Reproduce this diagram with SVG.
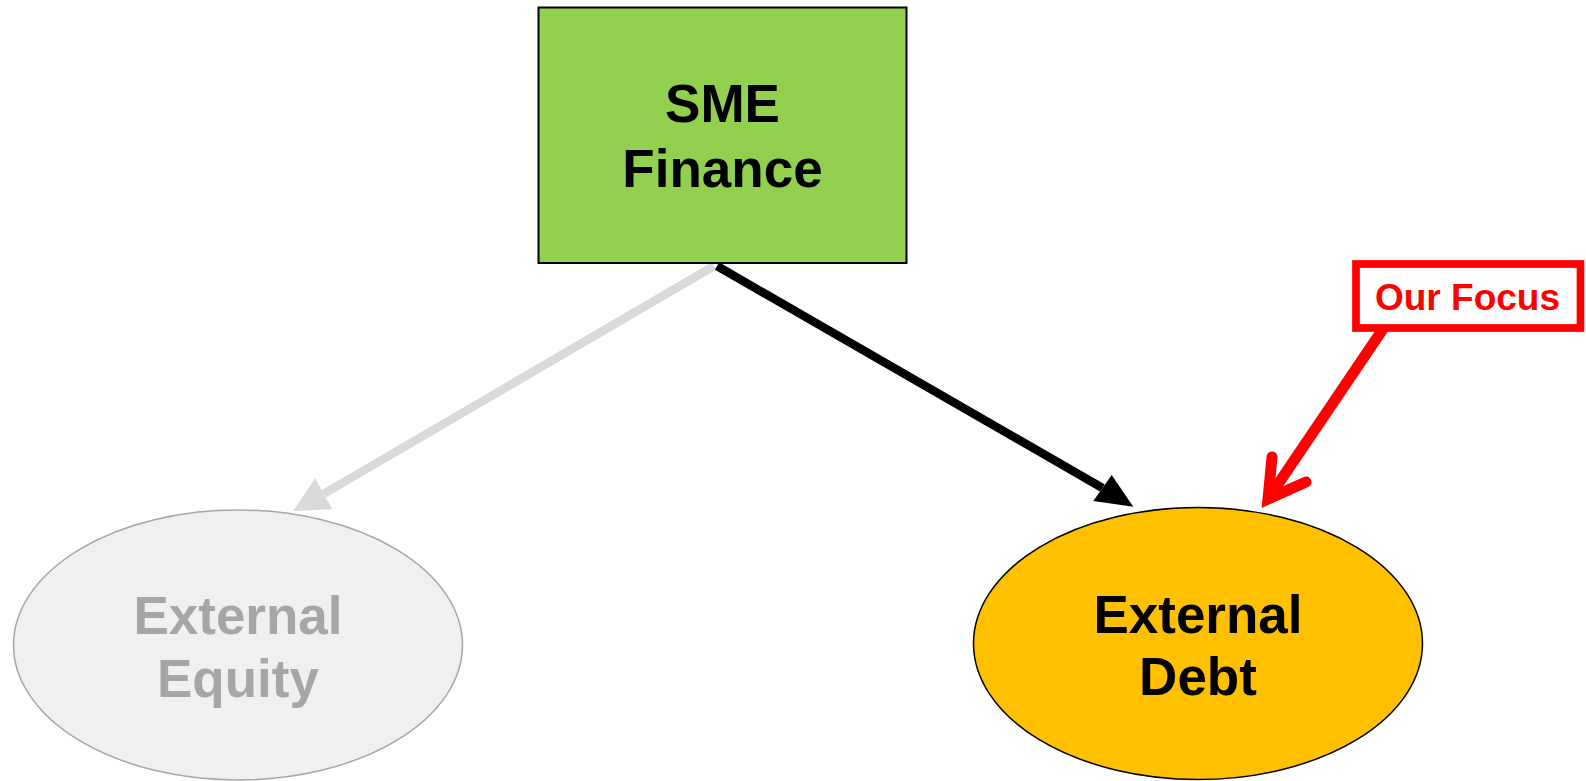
<svg xmlns="http://www.w3.org/2000/svg" width="1586" height="781" viewBox="0 0 1586 781">
  <style>
    .label { font-family: "Liberation Sans", Arial, sans-serif; font-weight: bold; text-anchor: middle; }
    .big { font-size: 53px; }
    .dark { fill: #000000; }
    .muted { fill: #A6A6A6; }
    .focus { font-size: 37px; fill: #FF0000; }
  </style>
  <rect width="1586" height="781" fill="#FFFFFF"/>

  <!-- connectors -->
  <g id="connectors">
    <g id="edge-equity">
      <line x1="714" y1="266" x2="323.7" y2="493.8" stroke="#D9D9D9" stroke-width="8.5"/>
      <polygon points="293.3,511 315,478.3 332.3,509.3" fill="#D9D9D9"/>
    </g>
    <g id="edge-debt">
      <line x1="717" y1="266" x2="1102.5" y2="488" stroke="#000000" stroke-width="8.5"/>
      <polygon points="1133.3,506.7 1111.7,475 1093.3,501" fill="#000000"/>
    </g>
    <g id="edge-focus">
      <line x1="1385" y1="326" x2="1268" y2="499" stroke="#FF0000" stroke-width="11"/>
      <path d="M1272,457 L1268,499 L1306,482" fill="none" stroke="#FF0000" stroke-width="11" stroke-linecap="round" stroke-linejoin="miter" stroke-miterlimit="10"/>
    </g>
  </g>

  <!-- SME Finance -->
  <g id="node-sme-finance">
    <rect x="538.5" y="7.5" width="368" height="255.5" fill="#92D050" stroke="#000000" stroke-width="2"/>
    <text class="label big dark" x="722.5" y="121.5">SME</text>
    <text class="label big dark" x="722.5" y="186.5">Finance</text>
  </g>

  <!-- External Equity -->
  <g id="node-external-equity">
    <ellipse cx="238" cy="645" rx="224.5" ry="135" fill="#F0F0F0" stroke="#A6A6A6" stroke-width="1.5"/>
    <text class="label big muted" x="238" y="634">External</text>
    <text class="label big muted" x="238" y="697">Equity</text>
  </g>

  <!-- External Debt -->
  <g id="node-external-debt">
    <ellipse cx="1198" cy="643.5" rx="224.5" ry="136" fill="#FFC000" stroke="#000000" stroke-width="1.5"/>
    <text class="label big dark" x="1198" y="632.5">External</text>
    <text class="label big dark" x="1198" y="695">Debt</text>
  </g>

  <!-- Our Focus callout -->
  <g id="node-our-focus">
    <rect x="1356" y="264" width="224.5" height="64" fill="#FFFFFF" stroke="#FF0000" stroke-width="7.7"/>
    <text class="label focus" x="1467.5" y="310">Our Focus</text>
  </g>
</svg>
